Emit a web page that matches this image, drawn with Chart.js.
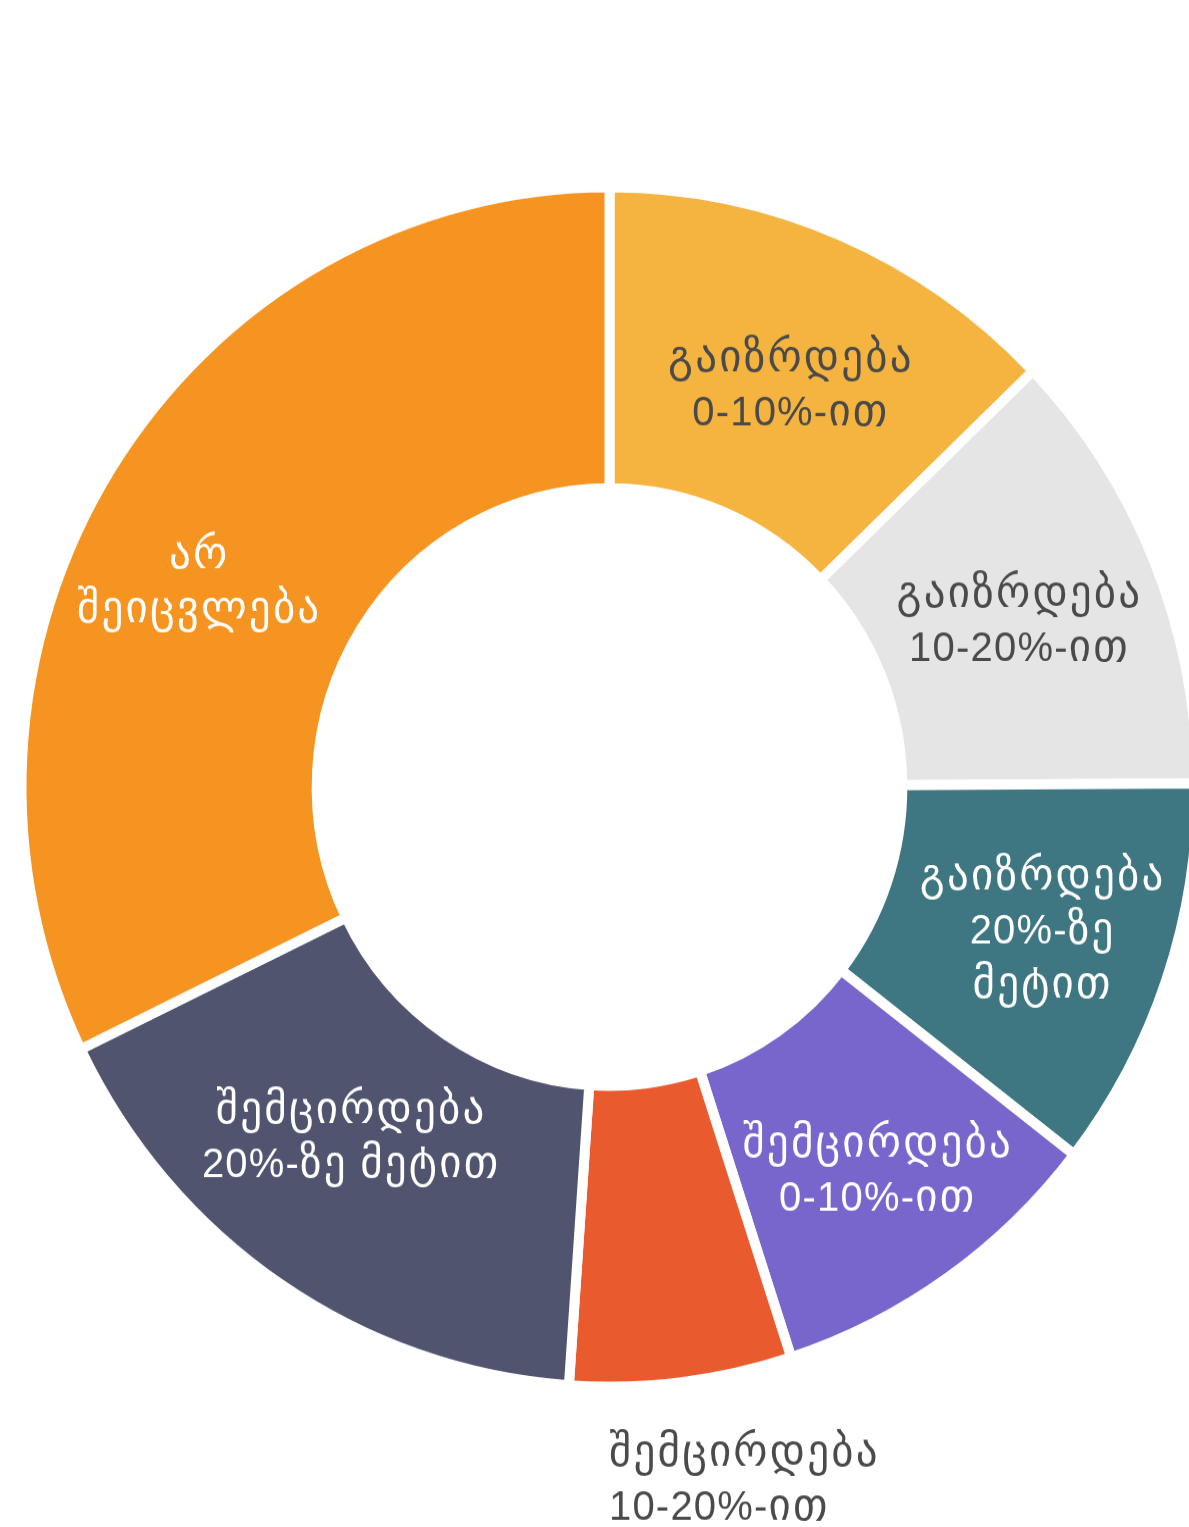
<!DOCTYPE html>
<html>
<head>
<meta charset="utf-8">
<script src="https://cdn.jsdelivr.net/npm/chart.js@4/dist/chart.umd.min.js"></script>
<style>
html,body{margin:0;padding:0;background:#ffffff;overflow:hidden;width:1189px;height:1527px}
#wrap{position:absolute;left:0;top:0;width:1220px;height:1500px;transform:scaleY(1.02);transform-origin:0 0}
canvas{display:block}
</style>
</head>
<body>
<div id="wrap"><canvas id="c" width="1220" height="1500"></canvas></div>
<script>
// ---- data ----
const categories = [
  ['გაიზრდება', '0-10%-ით'],
  ['გაიზრდება', '10-20%-ით'],
  ['გაიზრდება', '20%-ზე', 'მეტით'],
  ['შემცირდება', '0-10%-ით'],
  ['შემცირდება', '10-20%-ით'],
  ['შემცირდება', '20%-ზე მეტით'],
  ['არ', 'შეიცვლება']
];
const shares = [12.8, 12.1, 10.6, 9.5, 6.1, 16.7, 32.2];

// ---- styling ----
const sliceColors = ['#F5B43F', '#E5E5E5', '#3E7682', '#7866CC', '#E95A2E', '#50546F', '#F69421'];
const labelColors = ['#4A4A4A', '#4A4A4A', '#FFFFFF', '#FFFFFF', '#4A4A4A', '#FFFFFF', '#FFFFFF'];
const labelOutside = [false, false, false, false, true, false, false];
const labelAlign = ['center', 'center', 'center', 'center', 'left', 'center', 'center'];
const labelNudgeX = [9, 2, 16, 15, -84, -12, -37];
const labelNudgeY = [10, 2, -2, 15, 0, -23, 32];
const georgianFont = '43px "DejaVu Sans", sans-serif';
const latinFont = '40px "Liberation Sans", Arial, sans-serif';
const georgianSpacing = 2.2;
const latinSpacing = 1.2;
const lineHeight = 53;
const baselineShift = 14;

function splitRuns(text) {
  return text.match(/[\u10A0-\u10FF]+|[^\u10A0-\u10FF]+/g) || [];
}
function runStyle(run) {
  const geo = /[\u10A0-\u10FF]/.test(run);
  return geo ? { font: georgianFont, sp: georgianSpacing } : { font: latinFont, sp: latinSpacing };
}
function measureLine(ctx, text) {
  let w = 0;
  splitRuns(text).forEach(run => {
    const st = runStyle(run);
    ctx.font = st.font;
    for (const ch of run) w += ctx.measureText(ch).width + st.sp;
  });
  return w;
}
function drawLine(ctx, text, x, y, align) {
  const w = measureLine(ctx, text);
  let cx = align === 'left' ? x : x - w / 2;
  splitRuns(text).forEach(run => {
    const st = runStyle(run);
    ctx.font = st.font;
    for (const ch of run) {
      ctx.fillText(ch, cx, y);
      cx += ctx.measureText(ch).width + st.sp;
    }
  });
}

const sliceLabelPlugin = {
  id: 'sliceLabels',
  afterDatasetsDraw(chart) {
    const ctx = chart.ctx;
    const meta = chart.getDatasetMeta(0);
    ctx.save();
    ctx.textBaseline = 'alphabetic';
    ctx.textAlign = 'left';
    meta.data.forEach((arc, i) => {
      const p = arc.getProps(['x', 'y', 'startAngle', 'endAngle', 'innerRadius', 'outerRadius'], true);
      const mid = (p.startAngle + p.endAngle) / 2;
      const r = labelOutside[i] ? p.outerRadius + 95 : (p.innerRadius + p.outerRadius) / 2;
      const ax = p.x + Math.cos(mid) * r + labelNudgeX[i];
      const ay = p.y + Math.sin(mid) * r + labelNudgeY[i];
      const lines = categories[i];
      ctx.fillStyle = labelColors[i];
      const y0 = ay - (lines.length - 1) * lineHeight / 2;
      lines.forEach((ln, k) => drawLine(ctx, ln, ax, y0 + k * lineHeight + baselineShift, labelAlign[i]));
    });
    ctx.restore();
  }
};

new Chart(document.getElementById('c'), {
  type: 'doughnut',
  data: {
    labels: categories.map(l => l.join(' ')),
    datasets: [{
      data: shares,
      backgroundColor: sliceColors,
      borderColor: '#FFFFFF',
      borderWidth: 10,
      hoverOffset: 0
    }]
  },
  options: {
    responsive: false,
    devicePixelRatio: 1,
    animation: false,
    cutout: '49.8%',
    layout: { padding: { left: 16.5, right: 17.5, top: 178.6, bottom: 135.4 } },
    plugins: {
      legend: { display: false },
      tooltip: { enabled: false }
    }
  },
  plugins: [sliceLabelPlugin]
});
</script>
</body>
</html>
